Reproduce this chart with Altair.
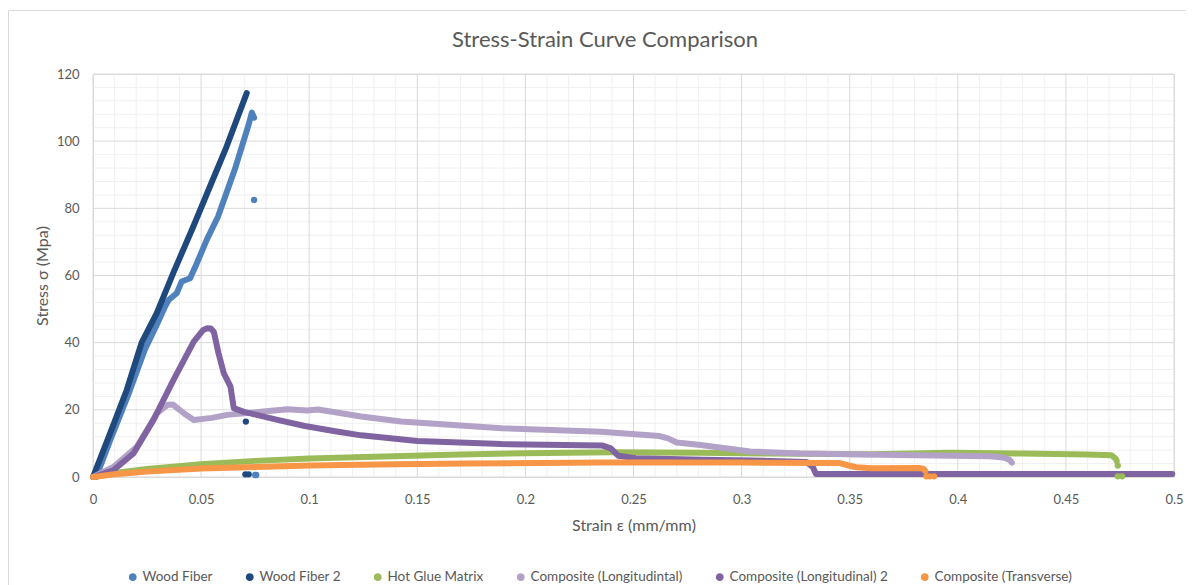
import altair as alt
import pandas as pd

chart_title = "Stress-Strain Curve Comparison"
series = ["Wood Fiber", "Wood Fiber 2", "Hot Glue Matrix", "Composite (Longitudintal)",
          "Composite (Longitudinal) 2", "Composite (Transverse)"]
colors = ["#4F81BD", "#1F497D", "#9BBB59", "#B3A2C7", "#8064A2", "#F79646"]

# Curves: strain (mm/mm) and stress (MPa)
wf_strain = [0.0015, 0.008, 0.016, 0.024, 0.030, 0.0335, 0.035, 0.0387, 0.041, 0.0449, 0.048, 0.0526,
             0.0578, 0.0655, 0.0717, 0.0735, 0.0745]
wf_stress = [0, 11, 24, 38, 46, 51, 52.7, 54.7, 58.2, 59.2, 63.6, 70.6, 77.5, 91.4, 104.3, 108.5, 107]

wf2_strain = [0, 0.0079, 0.0156, 0.0225, 0.0295, 0.0371, 0.0464, 0.0541, 0.0618, 0.0711]
wf2_stress = [0, 13.0, 25.9, 40.0, 48.8, 60.7, 74.6, 86.5, 98.4, 114.3]

hg_strain = [0, 0.01, 0.025, 0.05, 0.075, 0.1, 0.13, 0.17, 0.2, 0.24, 0.28, 0.33, 0.36, 0.396, 0.43,
             0.46, 0.471, 0.473, 0.4735]
hg_stress = [0, 1.2, 2.4, 3.8, 4.8, 5.5, 6.0, 6.7, 7.1, 7.4, 7.2, 6.9, 6.8, 7.2, 7.0, 6.7, 6.5, 5.5, 4.8]

cl_strain = [0, 0.0094, 0.0203, 0.0296, 0.0345, 0.037, 0.039, 0.042, 0.0466, 0.055, 0.062, 0.0775,
             0.09, 0.099, 0.104, 0.112, 0.124, 0.1425, 0.189, 0.235, 0.262, 0.266, 0.27, 0.281,
             0.304, 0.327, 0.38, 0.415, 0.421, 0.424, 0.425]
cl_stress = [0, 3, 9, 19, 21.5, 21.6, 20.5, 19, 17, 17.6, 18.5, 19.4, 20.2, 19.8, 20.1, 19.3, 18,
             16.5, 14.5, 13.5, 12.2, 11.5, 10.3, 9.5, 7.6, 7.0, 6.5, 6.2, 5.8, 5.1, 4.3]

cl2_strain = [0, 0.0094, 0.0187, 0.028, 0.0373, 0.0466, 0.051, 0.0528, 0.0545, 0.0559, 0.058, 0.0605,
              0.0636, 0.0651, 0.0698, 0.0853, 0.098, 0.112, 0.124, 0.15, 0.189, 0.2354, 0.2395,
              0.243, 0.251, 0.282, 0.305, 0.33, 0.333, 0.3344, 0.4992]
cl2_stress = [0, 2, 7, 17, 29, 40.3, 43.8, 44.3, 44.2, 43.2, 37, 30.9, 26.9, 20.5, 19.4, 17, 15.2,
              13.6, 12.4, 10.7, 9.8, 9.4, 8.5, 6.3, 5.6, 5.1, 4.9, 4.5, 2.9, 0.9, 0.9]

ct_strain = [0, 0.01, 0.025, 0.05, 0.075, 0.1, 0.115, 0.14, 0.173, 0.235, 0.3, 0.345, 0.349, 0.353,
             0.36, 0.382, 0.384, 0.385]
ct_stress = [0, 0.8, 1.6, 2.5, 3.0, 3.4, 3.6, 3.8, 4.0, 4.3, 4.3, 4.2, 3.5, 2.9, 2.6, 2.7, 2.5, 1.8]

# Isolated markers
pt_series = ["Wood Fiber", "Wood Fiber", "Wood Fiber", "Wood Fiber 2", "Wood Fiber 2", "Wood Fiber 2",
             "Hot Glue Matrix", "Hot Glue Matrix", "Hot Glue Matrix",
             "Composite (Transverse)", "Composite (Transverse)", "Composite (Transverse)"]
pt_strain = [0.0745, 0.075, 0.0755, 0.0707, 0.0705, 0.072, 0.474, 0.474, 0.476, 0.3855, 0.387, 0.389]
pt_stress = [82.5, 0.6, 0.6, 16.5, 0.8, 0.8, 3.4, 0.2, 0.2, 0.2, 0.2, 0.2]

x_major = [0, 0.05, 0.1, 0.15, 0.2, 0.25, 0.3, 0.35, 0.4, 0.45, 0.5]
y_major = [0, 20, 40, 60, 80, 100, 120]
x_minor = [round(i * 0.01, 2) for i in range(1, 50) if i % 5]
y_minor = [v for v in range(4, 120, 4) if v % 20]

curves = [(wf_strain, wf_stress), (wf2_strain, wf2_stress), (hg_strain, hg_stress),
          (cl_strain, cl_stress), (cl2_strain, cl2_stress), (ct_strain, ct_stress)]

FONT = "Lato"
TXT = "#595959"

xscale = alt.Scale(domain=[0, 0.5], nice=False, zero=False)
yscale = alt.Scale(domain=[0, 120], nice=False, zero=False)
cscale = alt.Scale(domain=series, range=colors)

axis_common = dict(grid=False, ticks=False, domain=False, labelFont=FONT, labelColor=TXT,
                   labelFontSize=13, titleFont=FONT, titleColor=TXT, titleFontSize=16,
                   titleFontWeight="normal", labelFlush=False)
X_AXIS = alt.Axis(values=x_major, format=".2~f", title="Strain ε (mm/mm)",
                  labelPadding=26, labelBaseline="alphabetic",
                  titleY=53, titleBaseline="alphabetic", **axis_common)
Y_AXIS = alt.Axis(values=y_major, title="Stress σ (Mpa)", labelPadding=14,
                  titleX=-51, titleY=201.5, titleAngle=-90, titleAlign="center",
                  titleBaseline="middle", **axis_common)
LEGEND = alt.Legend(title=None, orient="none", legendX=33, legendY=496,
                    direction="horizontal", symbolType="circle",
                    symbolSize=40, columnPadding=30, labelOffset=3,
                    labelFont=FONT, labelFontSize=13.5, labelColor=TXT, labelLimit=400)


def X(f):
    return alt.X(f, scale=xscale, axis=X_AXIS, title="Strain ε (mm/mm)")


def Y(f):
    return alt.Y(f, scale=yscale, axis=Y_AXIS, title="Stress σ (Mpa)")


def C():
    return alt.Color("series:N", scale=cscale, legend=LEGEND)


layers = []
# gridlines
layers.append(alt.Chart(pd.DataFrame({"v": x_minor})).mark_rule(color="#F0F0F0", strokeWidth=1)
              .encode(x=X("v:Q")))
layers.append(alt.Chart(pd.DataFrame({"v": y_minor})).mark_rule(color="#F0F0F0", strokeWidth=1)
              .encode(y=Y("v:Q")))
layers.append(alt.Chart(pd.DataFrame({"v": x_major})).mark_rule(color="#D9D9D9", strokeWidth=1)
              .encode(x=X("v:Q")))
layers.append(alt.Chart(pd.DataFrame({"v": y_major})).mark_rule(color="#D9D9D9", strokeWidth=1)
              .encode(y=Y("v:Q")))

for name, (sx, sy) in zip(series, curves):
    df = pd.DataFrame({"strain": sx, "stress": sy, "series": name, "i": list(range(len(sx)))})
    layers.append(
        alt.Chart(df).mark_line(strokeWidth=6, strokeCap="round", strokeJoin="round").encode(
            x=X("strain:Q"), y=Y("stress:Q"), color=C(), order=alt.Order("i:Q"),
        )
    )

pts = pd.DataFrame({"strain": pt_strain, "stress": pt_stress, "series": pt_series})
layers.append(
    alt.Chart(pts).mark_circle(size=40, opacity=1).encode(
        x=X("strain:Q"), y=Y("stress:Q"), color=C(),
    )
)

# outer chart-area border
layers.append(alt.Chart(pd.DataFrame({"a": [0]})).mark_rule(color="#D9D9D9", strokeWidth=1)
              .encode(x=alt.value(-84.5), y=alt.value(-63.5), y2=alt.value(620)))
layers.append(alt.Chart(pd.DataFrame({"a": [0]})).mark_rule(color="#D9D9D9", strokeWidth=1)
              .encode(x=alt.value(-84.5), x2=alt.value(1300), y=alt.value(-63.5)))

# chart title (as text mark, centred on the chart area)
layers.append(alt.Chart(pd.DataFrame({"t": [chart_title]})).mark_text(
    font=FONT, fontSize=22, color=TXT, align="center", baseline="alphabetic")
    .encode(text="t:N", x=alt.value(512), y=alt.value(-27.5)))

chart = alt.layer(*layers).properties(
    width=1081, height=403,
    autosize=alt.AutoSizeParams(type="none"),
    padding={"left": 85, "top": 66, "right": 12, "bottom": 112},
).configure_view(stroke="#D9D9D9").configure(background="white")

chart.save("out.html", embed_options={"renderer": "svg", "actions": False})
